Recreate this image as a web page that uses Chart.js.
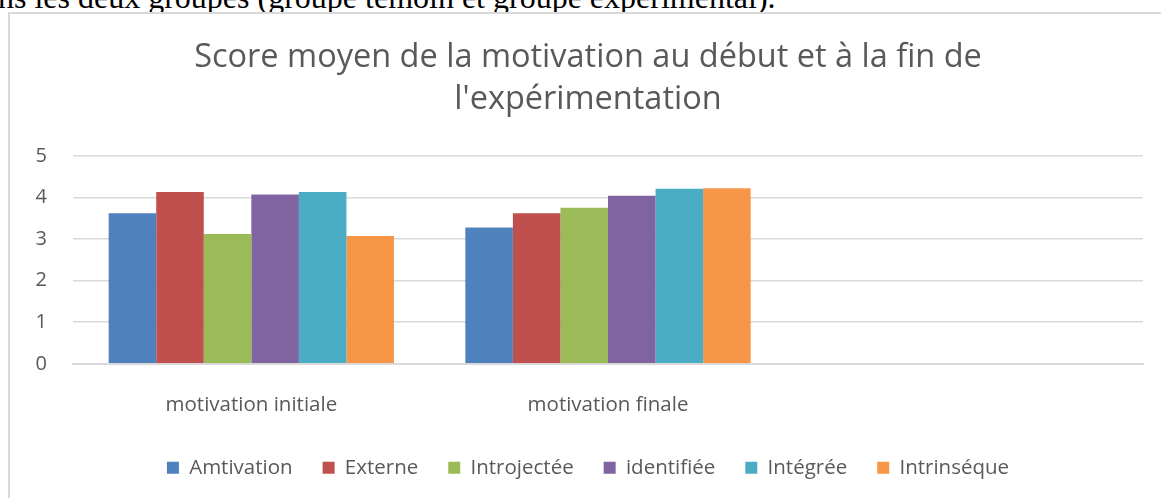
<!DOCTYPE html>
<html>
<head>
<meta charset="utf-8">
<script src="https://cdn.jsdelivr.net/npm/chart.js@4.4.0/dist/chart.umd.min.js"></script>
<style>
  html, body { margin: 0; padding: 0; background: #fff; overflow: hidden; }
  body { width: 1161px; height: 498px; position: relative; }
  #above {
    position: absolute; left: -2px; top: -19px;
    font-family: "Liberation Serif", serif; font-size: 32px; line-height: 1;
    color: #000; white-space: nowrap;
  }
  #box {
    position: absolute; left: 8px; top: 12px; width: 1151px; height: 484px;
    border-left: 2px solid #d9d9d9; border-top: 2px solid #d9d9d9;
    background: #fff;
  }
</style>
</head>
<body>
<div id="above">ns les deux groupes (groupe témoin et groupe expérimental).</div>
<div id="box"><canvas id="barChart" width="1151" height="484"></canvas></div>
<script>
const categories = ["motivation initiale", "motivation finale", ""];
const seriesNames = ["Amtivation", "Externe", "Introjectée", "identifiée", "Intégrée", "Intrinséque"];
const amtivation = [3.62, 3.28, null];
const externe = [4.13, 3.62, null];
const introjectee = [3.12, 3.75, null];
const identifiee = [4.07, 4.04, null];
const integree = [4.13, 4.21, null];
const intrinseque = [3.07, 4.22, null];
const seriesColors = ["#4F81BD", "#C0504D", "#9BBB59", "#8064A2", "#4BACC6", "#F79646"];
const yTicks = [0, 1, 2, 3, 4, 5];

const values = [amtivation, externe, introjectee, identifiee, integree, intrinseque];

const ctx = document.getElementById("barChart").getContext("2d");

const barChart = new Chart(ctx, {
    type: "bar",
    data: {
        labels: categories,
        datasets: seriesNames.map((name, i) => ({
            label: name,
            data: values[i],
            backgroundColor: seriesColors[i],
            borderWidth: 0,
            categoryPercentage: 0.8,
            barPercentage: 1.0,
        })),
    },
    options: {
        responsive: false,
        animation: false,
        layout: {
            padding: { left: 23, right: 18, top: 0, bottom: 10 },
        },
        scales: {
            x: {
                grid: { display: false, drawTicks: false },
                border: { color: "#d9d9d9", width: 2 },
                ticks: {
                    color: "#595959",
                    padding: 29,
                    font: { family: "Open Sans", size: 20.5 },
                },
                // chart.js counts the tick padding twice, keep only one
                afterFit: function (scale) {
                    scale.height = 54;
                },
            },
            y: {
                min: 0,
                max: 5,
                grid: { color: "#d9d9d9", lineWidth: 1.5, drawTicks: false },
                border: { display: false },
                ticks: {
                    stepSize: 1,
                    padding: 26,
                    color: "#595959",
                    font: { family: "Open Sans", size: 20 },
                    callback: function (value) {
                        return yTicks.includes(value) ? value : "";
                    },
                },
                afterFit: function (scale) {
                    scale.width = 40;
                },
            },
        },
        plugins: {
            title: {
                display: true,
                text: ["Score moyen de la motivation au début et à la fin de", "l'expérimentation"],
                color: "#595959",
                font: { family: "Open Sans", size: 32.5, weight: "normal", lineHeight: 1.29 },
                padding: { top: 23, bottom: 35 },
            },
            legend: {
                position: "bottom",
                title: {
                    display: true,
                    text: " ",
                    font: { size: 1 },
                    padding: { top: 0, bottom: 8.5 },
                },
                labels: {
                    color: "#595959",
                    boxWidth: 12,
                    boxHeight: 12,
                    padding: 30,
                    font: { family: "Open Sans", size: 20.5 },
                },
            },
            tooltip: { enabled: false },
        },
    },
});
</script>
</body>
</html>
